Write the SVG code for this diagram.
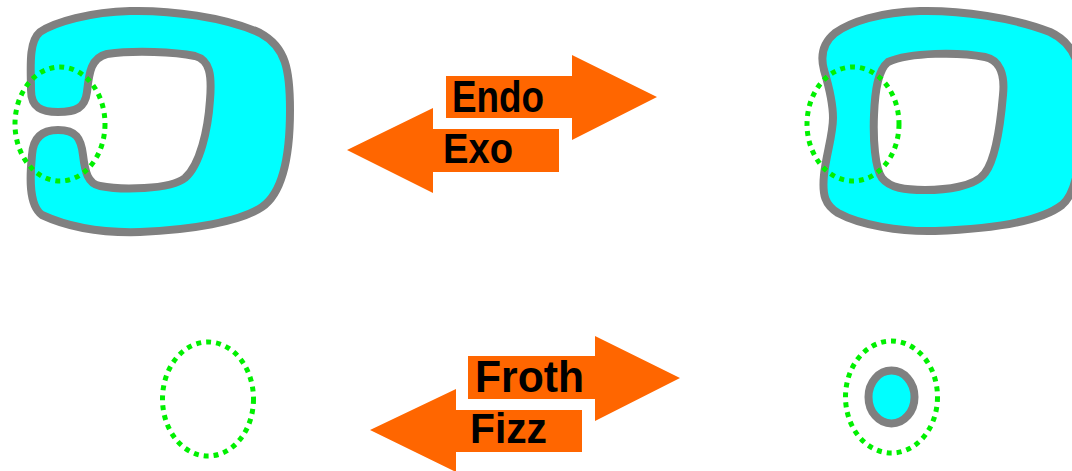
<svg xmlns="http://www.w3.org/2000/svg" width="1072" height="471" viewBox="0 0 1072 471">
<style>
.cell{fill:#00ffff;stroke:#808080;stroke-width:8;stroke-linejoin:round;fill-rule:evenodd}
.ring{fill:none;stroke:#00f000;stroke-width:5;stroke-dasharray:5 5}
.arrow{fill:#ff6600}
.lbl{font-family:"Comic Sans MS","Liberation Sans",sans-serif;font-weight:bold;fill:#000}
</style>
<rect width="1072" height="471" fill="#fff"/>
<g id="left-cell">
<path class="cell" d="M31,90 C31,108 42,112 58,112 C76,112 85,108 87,92 C89,75 90,58 107,54 C135,50 175,52 195,56 C210,60 212,75 210,100 C208,130 200,165 185,178 C170,190 120,190 100,186 C88,184 85,172 83,155 C81,138 76,130 58,130 C42,130 33,138 32,155 C30,175 28,205 42,215 C70,228 105,233 140,232 C190,230 240,222 262,207 C284,192 290,150 290,110 C290,70 286,47 260,33 C225,17 170,10 130,11 C90,12 55,22 40,32 C28,42 31,70 31,90 Z"/>
<ellipse class="ring" cx="60" cy="124" rx="45" ry="57"/>
</g>
<g id="right-cell">
<path class="cell" d="M824,70 C830,90 833,105 833,118 C833,135 826,155 824,175 C822,195 825,205 838,213 C860,225 900,232 935,231 C990,229 1040,222 1062,205 C1078,192 1082,150 1082,110 C1082,70 1078,45 1050,32 C1015,18 960,10 920,11 C880,12 850,22 835,33 C824,42 820,55 824,70 Z M888,62 C910,52 960,52 985,57 C1000,60 1005,75 1003,95 C1000,130 995,160 985,173 C975,187 945,190 925,190 C905,190 890,188 882,178 C875,168 873,140 874,115 C875,90 878,70 888,62 Z"/>
<ellipse class="ring" cx="853" cy="124" rx="46" ry="57"/>
</g>
<g id="empty-ring">
<ellipse class="ring" cx="208" cy="399" rx="45.5" ry="57"/>
</g>
<g id="vesicle">
<ellipse class="ring" cx="891.5" cy="397" rx="46" ry="56"/>
<ellipse class="cell" cx="891.5" cy="397" rx="23" ry="26.5"/>
</g>
<g id="connectors">
<g id="arrow-exo">
<path class="arrow" d="M347,150 L433,108 V129 H559 V172 H433 V193 Z"/>
<text class="lbl" x="443" y="163" font-size="42" textLength="70" lengthAdjust="spacingAndGlyphs">Exo</text>
</g>
<g id="arrow-endo">
<path class="arrow" d="M446,76 H572 V55 L657,97 L572,140 V118 H446 Z"/>
<text class="lbl" x="452" y="112" font-size="44" textLength="92" lengthAdjust="spacingAndGlyphs">Endo</text>
</g>
<g id="arrow-fizz">
<path class="arrow" d="M370,430 L456,389 V410 H582 V452 H456 V472 Z"/>
<text class="lbl" x="470" y="443" font-size="42" textLength="77" lengthAdjust="spacingAndGlyphs">Fizz</text>
</g>
<g id="arrow-froth">
<path class="arrow" d="M468,356 H595 V336 L680,378 L595,421 V399 H468 Z"/>
<text class="lbl" x="475" y="392" font-size="44" textLength="109" lengthAdjust="spacingAndGlyphs">Froth</text>
</g>
</g>
</svg>
